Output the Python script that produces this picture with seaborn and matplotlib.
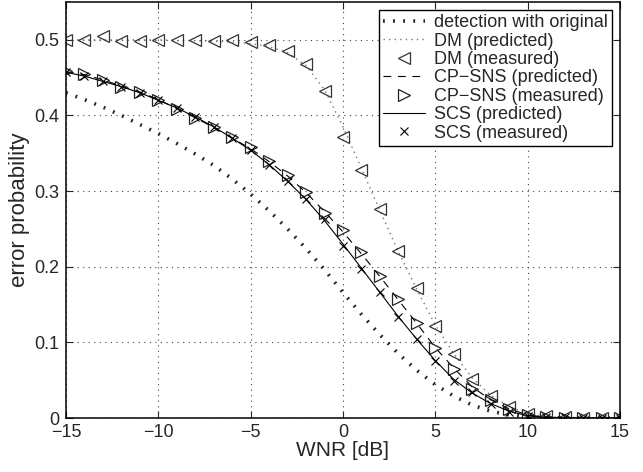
import numpy as np
import pandas as pd
import matplotlib
matplotlib.use("Agg")
import matplotlib.pyplot as plt
import seaborn as sns

wnr = list(range(-15, 16))

original = [0.430, 0.421, 0.411, 0.400, 0.388, 0.376, 0.363, 0.349, 0.334, 0.316,
            0.296, 0.274, 0.250, 0.224, 0.196, 0.166, 0.137, 0.110, 0.085, 0.063,
            0.044, 0.029, 0.017, 0.009, 0.004, 0.002, 0.001, 0.0, 0.0, 0.0, 0.0]
dm_pred = [0.500, 0.500, 0.500, 0.500, 0.500, 0.500, 0.499, 0.499, 0.498, 0.497,
           0.495, 0.491, 0.483, 0.466, 0.434, 0.385, 0.330, 0.274, 0.220, 0.170,
           0.123, 0.085, 0.053, 0.030, 0.015, 0.006, 0.002, 0.001, 0.0, 0.0, 0.0]
dm_meas = [0.500, 0.500, 0.505, 0.498, 0.498, 0.500, 0.500, 0.500, 0.498, 0.500,
           0.497, 0.493, 0.485, 0.468, 0.432, 0.372, 0.328, 0.276, 0.221, 0.172,
           0.121, 0.084, 0.051, 0.029, 0.015, 0.005, 0.002, 0.001, 0.0, 0.0, 0.0]
cp_pred = [0.458, 0.454, 0.447, 0.439, 0.431, 0.421, 0.409, 0.397, 0.384, 0.370,
           0.356, 0.339, 0.320, 0.298, 0.273, 0.246, 0.217, 0.187, 0.156, 0.125,
           0.093, 0.066, 0.041, 0.024, 0.012, 0.004, 0.001, 0.0, 0.0, 0.0, 0.0]
cp_meas = [0.459, 0.455, 0.447, 0.437, 0.431, 0.421, 0.408, 0.397, 0.385, 0.371,
           0.358, 0.340, 0.321, 0.299, 0.271, 0.248, 0.219, 0.188, 0.157, 0.126,
           0.092, 0.065, 0.039, 0.024, 0.012, 0.004, 0.001, 0.0, 0.0, 0.0, 0.0]
scs_pred = [0.457, 0.452, 0.445, 0.438, 0.430, 0.420, 0.410, 0.398, 0.385, 0.370,
            0.354, 0.335, 0.313, 0.289, 0.261, 0.230, 0.198, 0.166, 0.134, 0.104,
            0.076, 0.051, 0.033, 0.019, 0.009, 0.003, 0.001, 0.0, 0.0, 0.0, 0.0]
scs_meas = [0.457, 0.452, 0.445, 0.438, 0.430, 0.420, 0.410, 0.398, 0.385, 0.370,
            0.354, 0.335, 0.313, 0.290, 0.263, 0.228, 0.197, 0.166, 0.133, 0.104,
            0.076, 0.049, 0.034, 0.019, 0.008, 0.003, 0.001, 0.001, 0.0, 0.0, 0.0]

sns.set_style("ticks")
plt.rcParams['font.family'] = ['Liberation Sans', 'DejaVu Sans']

fig = plt.figure(figsize=(6.43, 4.72), dpi=100)
ax = fig.add_axes([0.1026, 0.1144, 0.8616, 0.8814])

df = pd.DataFrame({'wnr': wnr, 'original': original, 'dm_pred': dm_pred,
                   'dm_meas': dm_meas, 'cp_pred': cp_pred, 'cp_meas': cp_meas,
                   'scs_pred': scs_pred, 'scs_meas': scs_meas})

sns.lineplot(data=df, x='wnr', y='original', ax=ax, color='#222222', lw=2.6,
             linestyle=(0, (0.5, 2.3)), label='detection with original')
sns.lineplot(data=df, x='wnr', y='dm_pred', ax=ax, color='#777777', lw=1.0,
             linestyle=(0, (1, 3)), label='DM (predicted)')
sns.lineplot(data=df, x='wnr', y='dm_meas', ax=ax, color='none', marker='<',
             markersize=9, markerfacecolor='none', markeredgecolor='#333333',
             markeredgewidth=0.9, label='DM (measured)')
sns.lineplot(data=df, x='wnr', y='cp_pred', ax=ax, color='black', lw=0.8,
             linestyle=(0, (7, 6)), label='CP\u2212SNS (predicted)')
sns.lineplot(data=df, x='wnr', y='cp_meas', ax=ax, color='none', marker='>',
             markersize=9, markerfacecolor='none', markeredgecolor='#222222',
             markeredgewidth=0.9, label='CP\u2212SNS (measured)')
sns.lineplot(data=df, x='wnr', y='scs_pred', ax=ax, color='black', lw=0.8,
             label='SCS (predicted)')
sns.lineplot(data=df, x='wnr', y='scs_meas', ax=ax, color='none', marker='x',
             markersize=6, markeredgecolor='black', markeredgewidth=0.8,
             label='SCS (measured)')

ax.set_xlim(-15, 15)
ax.set_ylim(0, 0.55)
ax.set_xticks([-15, -10, -5, 0, 5, 10, 15])
ax.set_xticklabels(['\u221215', '\u221210', '\u22125', '0', '5', '10', '15'])
ax.set_yticks([0, 0.1, 0.2, 0.3, 0.4, 0.5])
ax.set_yticklabels(['0', '0.1', '0.2', '0.3', '0.4', '0.5'])
ax.tick_params(direction='in', top=True, right=True, labelsize=13, length=5,
               width=0.8)
ax.tick_params(axis='x', pad=4)
ax.tick_params(axis='y', pad=5)
ax.grid(True, linestyle=(0, (1, 4)), color='#444444', linewidth=0.8)
for s in ax.spines.values():
    s.set_linewidth(1.1)
    s.set_color('black')
ax.set_xlabel('WNR [dB]', fontsize=15, labelpad=0)
ax.set_ylabel('error probability', fontsize=16, labelpad=3)

leg = ax.legend(loc='upper right', fontsize=13, frameon=True, fancybox=False,
                edgecolor='black', framealpha=1, borderaxespad=0.45,
                handlelength=2.3, labelspacing=0.08, borderpad=0.22,
                handletextpad=0.5)
leg.get_frame().set_linewidth(1.0)

fig.savefig('out.png', dpi=100)
